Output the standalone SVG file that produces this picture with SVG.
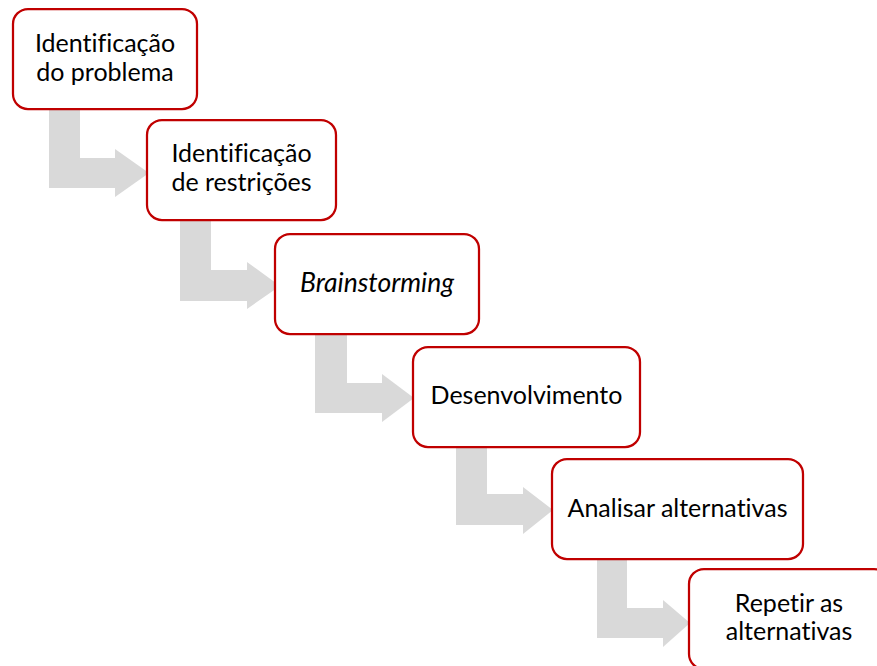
<svg xmlns="http://www.w3.org/2000/svg" width="877" height="666" viewBox="0 0 877 666">
<style>
.box{fill:#fff;stroke:#C00000;stroke-width:2.25}
.arr{fill:#D9D9D9;stroke:none}
text{font-family:Lato,"Open Sans","Liberation Sans",sans-serif;font-size:25px;fill:#000;text-anchor:middle;font-variant-ligatures:none}
.it{font-style:italic;font-size:26.5px}
</style>
<rect width="877" height="666" fill="#fff"/>
<g id="connectors">
<path class="arr" d="M49,105 H80 V158 H115 V149 L149,173 L115,197 V188 H49 Z"/>
<path class="arr" d="M180,215 H211 V270 H247 V262 L280,286 L247,309 V301 H180 Z"/>
<path class="arr" d="M315,329 H347 V383 H382 V374 L414,398 L382,422 V413 H315 Z"/>
<path class="arr" d="M456,442 H487 V494 H523 V487 L553,510 L523,534 V525 H456 Z"/>
<path class="arr" d="M597,554 H627 V608 H663 V600 L690,623 L663,647 V638 H597 Z"/>
</g>
<g id="n1"><rect class="box" x="13" y="9" width="184" height="100" rx="15"/><text x="105" y="52">Identificação</text><text x="105" y="81">do problema</text></g>
<g id="n2"><rect class="box" x="147" y="120" width="189" height="100" rx="15"/><text x="241.5" y="162">Identificação</text><text x="241.5" y="191">de restrições</text></g>
<g id="n3"><rect class="box" x="275" y="234" width="204" height="100" rx="15"/><text class="it" x="377" y="292">Brainstorming</text></g>
<g id="n4"><rect class="box" x="413" y="347" width="227" height="100" rx="15"/><text x="526.5" y="404">Desenvolvimento</text></g>
<g id="n5"><rect class="box" x="552" y="459" width="251" height="100" rx="15"/><text x="677.5" y="517">Analisar alternativas</text></g>
<g id="n6"><rect class="box" x="689" y="569" width="200" height="100" rx="15"/><text x="789" y="612">Repetir as</text><text x="789" y="640">alternativas</text></g>
</svg>
